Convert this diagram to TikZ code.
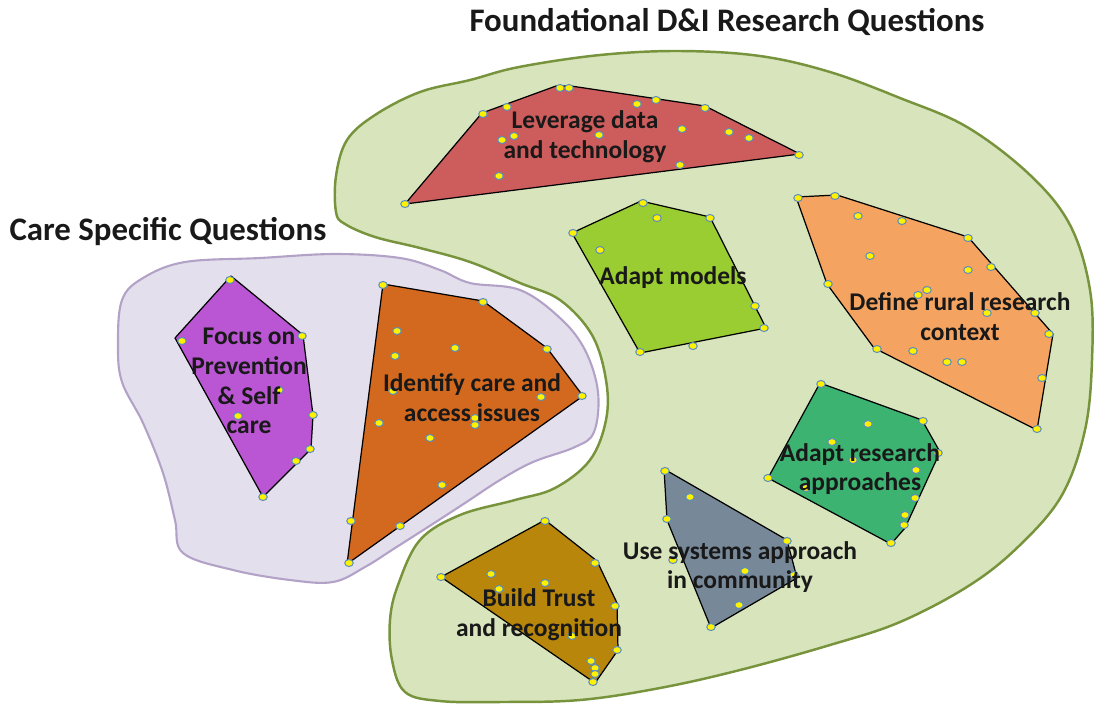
\documentclass[tikz,border=0pt]{standalone}
\usepackage{fontspec}
\setmainfont{Carlito}
\usepackage{tikz}
\definecolor{blobgreen}{HTML}{D8E4BC}
\definecolor{blobgreenline}{HTML}{77933C}
\definecolor{bloblav}{HTML}{E4DFEC}
\definecolor{bloblavline}{HTML}{B3A2C7}
\definecolor{dotline}{HTML}{5B8DBE}

\begin{document}
\begin{tikzpicture}[x=0.02cm, y=-0.02cm,
    region/.style={draw=black, line width=0.7pt, line join=round},
    dot/.style={fill=yellow, draw=dotline, line width=0.6pt},
    lbl/.style={font=\fontsize{14.5}{17}\selectfont\bfseries, align=center, text=black!90},
    ttl/.style={font=\fontsize{18.7}{22}\selectfont\bfseries, text=black!90}]
          \useasboundingbox (0,0) rectangle (1094,704);

          % the two big areas
          \draw [blobgreenline, fill=blobgreen, line width=1.4pt] plot [smooth cycle, tension=0.6] coordinates {
            (336,212) (336,176) (347,140) (375,115) (420,92) (470,80) (519,67) (600,55) (680,51) (760,56)
            (830,72) (900,98) (967,127) (1030,175) (1070,225) (1090,290) (1092,360) (1085,430) (1062,495)
            (1020,545) (970,585) (900,622) (830,645) (740,670) (660,688) (580,700) (500,702) (440,701)
            (405,692) (392,660) (390,620) (398,585) (420,540) (460,515) (515,500) (555,488) (590,460)
            (606,420) (606,380) (592,335) (560,300) (520,283) (470,262) (420,248) (375,237) (345,224)};
          \draw [bloblavline, fill=bloblav, line width=1.2pt] plot [smooth cycle, tension=0.6] coordinates {
            (118,345) (122,300) (143,278) (185,262) (260,258) (335,254) (400,258) (440,270) (470,283)
            (520,290) (560,318) (585,350) (598,392) (594,432) (575,447) (533,462) (500,480) (465,503)
            (428,527) (395,548) (365,567) (333,582) (290,580) (233,570) (183,553) (175,520) (163,473)
            (143,423) (122,382)};

          \node [ttl] (found) at (727,22) {Foundational D\&I Research Questions};
          \node [ttl] (care) at (168,232) {Care Specific Questions};

          % clusters
          \draw [region, fill={rgb,255:red,205;green,92;blue,92}] (405,204) -- (482,113) -- (556,86) -- (571,86) -- (705,106) -- (800,154) -- cycle;
          \draw [region, fill={rgb,255:red,186;green,85;blue,211}] (231,276) -- (303,335) -- (313,415) -- (311,449) -- (263,497) -- (175,338) -- cycle;
          \draw [region, fill={rgb,255:red,210;green,105;blue,30}] (383,284) -- (483,301) -- (547,348) -- (583,396) -- (347,564) -- cycle;
          \draw [region, fill={rgb,255:red,154;green,205;blue,50}] (572,233) -- (641,201) -- (710,217) -- (766,328) -- (640,353) -- cycle;
          \draw [region, fill={rgb,255:red,244;green,164;blue,96}] (796,197) -- (837,195) -- (968,237) -- (1053,334) -- (1037,430) -- (874,348) -- (827,284) -- cycle;
          \draw [region, fill={rgb,255:red,60;green,179;blue,113}] (820,383) -- (922,420) -- (940,452) -- (905,528) -- (891,544) -- (768,478) -- cycle;
          \draw [region, fill={rgb,255:red,119;green,136;blue,153}] (664,469) -- (787,540) -- (797,578) -- (711,628) -- (667,520) -- cycle;
          \draw [region, fill={rgb,255:red,184;green,134;blue,11}] (545,520) -- (597,561) -- (617,603) -- (618,650) -- (595,683) -- (441,577) -- cycle;

          % data points
          \foreach \x/\y in {405/204, 483/114, 507/107, 560/88, 569/88, 637/104, 656/100, 705/108, 799/155,
              502/140, 514/136, 599/135, 682/129, 729/132, 749/138, 680/165, 499/176,
              230/280, 302/336, 313/415, 310/449, 296/461, 263/497, 182/341, 279/390, 238/416,
              383/285, 483/302, 547/349, 582/396, 397/331, 395/356, 455/348, 393/391, 541/397, 379/423,
              475/418, 475/425, 430/438, 442/485, 351/521, 400/526, 349/563,
              643/203, 657/218, 710/218, 600/250, 755/306, 764/328, 693/346, 640/352, 573/233,
              798/198, 835/196, 858/216, 902/221, 870/256, 968/238, 968/270, 991/267, 918/295, 927/290,
              987/313, 1035/313, 1049/334, 828/284, 877/349, 913/351, 947/362, 962/362, 1042/378, 1037/429,
              821/384, 923/421, 868/424, 832/442, 853/460, 938/453, 916/470, 768/478, 806/488, 915/498,
              905/515, 904/525, 891/543,
              665/471, 690/497, 667/519, 787/541, 673/560, 745/571, 794/575, 739/605, 711/627,
              545/521, 491/574, 499/589, 545/583, 595/563, 615/606, 572/636, 617/650, 591/661, 595/668,
              595/674, 593/682, 441/577}
            \draw [dot] (\x,\y) ellipse [x radius=0.085cm, y radius=0.07cm];

          % labels
          \node [lbl] (lev) at (585,137) {Leverage data\\and technology};
          \node [lbl] (foc) at (249,381) {Focus on\\Prevention\\\& Self\\care};
          \node [lbl] (idc) at (472,398) {Identify care and\\access issues};
          \node [lbl] (adm) at (673,278) {Adapt models};
          \node [lbl] (drr) at (960,317) {Define rural research\\context};
          \node [lbl] (ara) at (860,469) {Adapt research\\approaches};
          \node [lbl] (usa) at (740,567) {Use systems approach\\in community};
          \node [lbl] (btr) at (539,615) {Build Trust\\and recognition};
        \end{tikzpicture}
\end{document}
